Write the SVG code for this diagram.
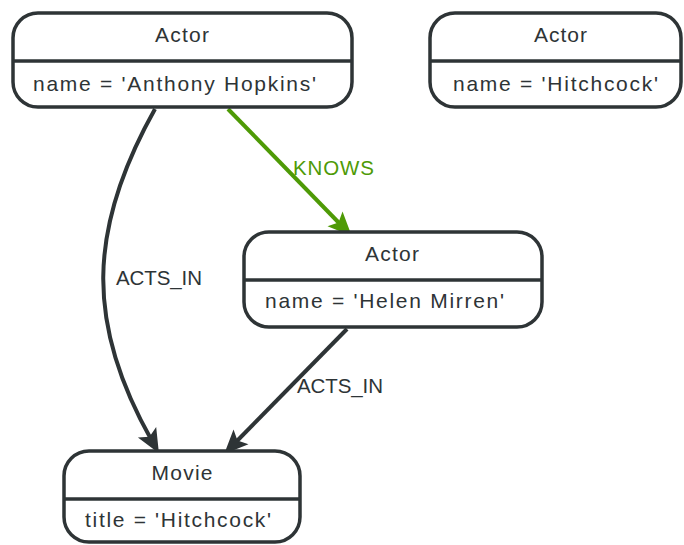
<svg xmlns="http://www.w3.org/2000/svg" width="684" height="545" viewBox="0 0 684 545">
  <style>
    .box { fill: #ffffff; stroke: #2e3436; stroke-width: 3.5; }
    .div { stroke: #2e3436; stroke-width: 3.5; }
    .t { font-family: "Liberation Sans", Arial, sans-serif; font-size: 21px; fill: #2e3436; }
    .c { text-anchor: middle; }
    .edge { fill: none; stroke: #2e3436; stroke-width: 4; }
    .edge.g { stroke: #4e9a06; }
    .lbl { font-family: "Liberation Sans", Arial, sans-serif; font-size: 20.5px; fill: #2e3436; }
    .lbl.g { fill: #4e9a06; }
  </style>
  <defs>
    <marker id="ad" viewBox="-26 -12 28 24" refX="-14" refY="0" markerWidth="28" markerHeight="24" markerUnits="userSpaceOnUse" orient="auto">
      <path d="M-24,-10.5 L0,0 L-24,10.5 L-19,0 Z" fill="#2e3436"/>
    </marker>
    <marker id="ag" viewBox="-26 -12 28 24" refX="-14" refY="0" markerWidth="28" markerHeight="24" markerUnits="userSpaceOnUse" orient="auto">
      <path d="M-24,-10.5 L0,0 L-24,10.5 L-19,0 Z" fill="#4e9a06"/>
    </marker>
  </defs>

  <g id="edges">
    <path class="edge" d="M155,109 C87,230 86,325 152,441" marker-end="url(#ad)"/>
    <path class="edge g" d="M228,109 L342,226" marker-end="url(#ag)"/>
    <path class="edge" d="M347,329 L234,444" marker-end="url(#ad)"/>
    <text class="lbl" x="116" y="285" textLength="86">ACTS_IN</text>
    <text class="lbl g" x="293" y="175" textLength="81">KNOWS</text>
    <text class="lbl" x="297" y="393" textLength="86">ACTS_IN</text>
  </g>

  <g id="node-hopkins">
    <rect class="box" x="13" y="13" width="339" height="94" rx="25" ry="25"/>
    <line class="div" x1="13" y1="61" x2="352" y2="61"/>
    <text class="t c" x="182" y="42" textLength="54">Actor</text>
    <text class="t" x="33" y="91" textLength="283">name = 'Anthony Hopkins'</text>
  </g>

  <g id="node-hitchcock-actor">
    <rect class="box" x="430" y="13" width="251" height="94" rx="25" ry="25"/>
    <line class="div" x1="430" y1="61" x2="681" y2="61"/>
    <text class="t c" x="560.5" y="42" textLength="53">Actor</text>
    <text class="t" x="453" y="91" textLength="205">name = 'Hitchcock'</text>
  </g>

  <g id="node-mirren">
    <rect class="box" x="244" y="232" width="298" height="95" rx="25" ry="25"/>
    <line class="div" x1="244" y1="280" x2="542" y2="280"/>
    <text class="t c" x="392" y="261" textLength="54">Actor</text>
    <text class="t" x="265" y="308" textLength="239">name = 'Helen Mirren'</text>
  </g>

  <g id="node-movie">
    <rect class="box" x="64" y="451" width="236" height="91" rx="25" ry="25"/>
    <line class="div" x1="64" y1="499" x2="300" y2="499"/>
    <text class="t c" x="182" y="480" textLength="61">Movie</text>
    <text class="t" x="85" y="527" textLength="186">title = 'Hitchcock'</text>
  </g>
</svg>
